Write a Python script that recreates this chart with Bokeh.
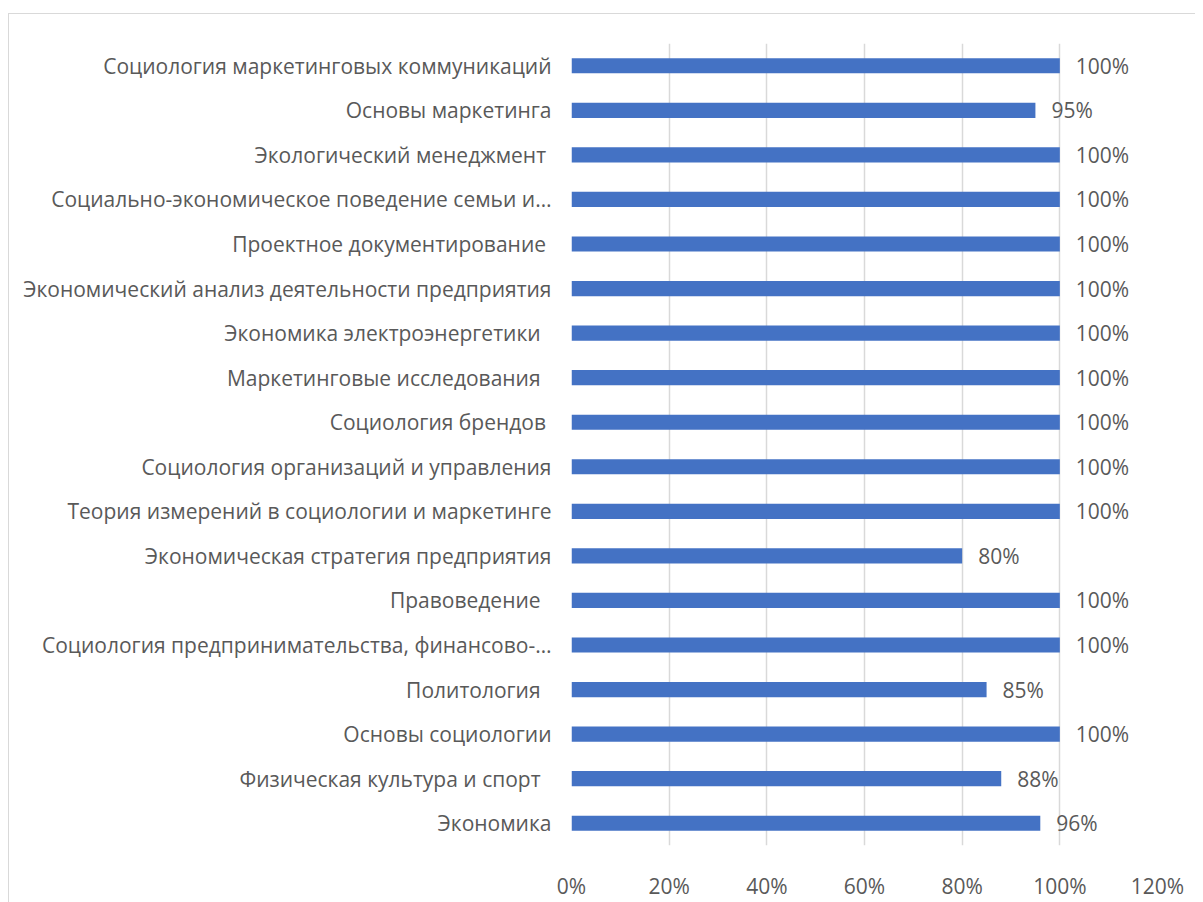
from bokeh.plotting import figure
from bokeh.models import FactorRange, Range1d, FixedTicker, NumeralTickFormatter, ColumnDataSource
from bokeh.core.properties import value
from bokeh.embed import file_html
from bokeh.resources import INLINE

NBSP = "\u00a0"
categories = [
    "Социология маркетинговых коммуникаций",
    "Основы маркетинга",
    "Экологический менеджмент" + NBSP,
    "Социально-экономическое поведение семьи и…",
    "Проектное документирование" + NBSP,
    "Экономический анализ деятельности предприятия",
    "Экономика электроэнергетики" + NBSP + NBSP,
    "Маркетинговые исследования" + NBSP + NBSP,
    "Социология брендов" + NBSP,
    "Социология организаций и управления",
    "Теория измерений в социологии и маркетинге",
    "Экономическая стратегия предприятия",
    "Правоведение" + NBSP + NBSP,
    "Социология предпринимательства, финансово-…",
    "Политология" + NBSP + NBSP,
    "Основы социологии",
    "Физическая культура и спорт" + NBSP + NBSP,
    "Экономика",
]
values = [1.00, 0.95, 1.00, 1.00, 1.00, 1.00, 1.00, 1.00, 1.00, 1.00, 1.00, 0.80, 1.00, 1.00, 0.85, 1.00, 0.88, 0.96]
value_labels = ["100%", "95%", "100%", "100%", "100%", "100%", "100%", "100%", "100%", "100%", "100%", "80%", "100%", "100%", "85%", "100%", "88%", "96%"]
x_ticks = [0, 0.2, 0.4, 0.6, 0.8, 1.0, 1.2]

FONT = "Open Sans"
TXT = "#595959"

src = ColumnDataSource(dict(cat=categories, val=values, lab=value_labels))

p = figure(
    width=1195, height=902,
    y_range=FactorRange(factors=list(reversed(categories)), range_padding=0),
    x_range=Range1d(0, 1.2),
    output_backend="svg", toolbar_location=None,
    min_border_left=571, min_border_right=38, min_border_top=43, min_border_bottom=55,
)
p.outline_line_color = None
p.background_fill_color = "white"
p.border_fill_color = None
# thin light-grey chart-area border drawn behind the (transparent) canvas border area
p.styles = {
    "background-color": "white",
    "background-image": "linear-gradient(#d9d9d9, #d9d9d9), linear-gradient(#d9d9d9, #d9d9d9)",
    "background-size": "1px 100%, 100% 1px",
    "background-position": "8px 13px, 8px 13px",
    "background-repeat": "no-repeat",
}

p.hbar(y="cat", right="val", left=0, height=0.34, source=src, color="#4472C4", line_color=None)
p.text(x="val", y="cat", text="lab", source=src, x_offset=16, text_baseline="middle", text_align="left",
       text_font=value(FONT), text_font_size="21px", text_color=TXT)

p.ygrid.grid_line_color = None
p.xgrid.grid_line_color = "#d9d9d9"
p.xgrid.grid_line_width = 1.5
p.xaxis.ticker = FixedTicker(ticks=x_ticks)
p.xaxis.formatter = NumeralTickFormatter(format="0%")

for ax in (p.xaxis[0], p.yaxis[0]):
    ax.axis_line_color = None
    ax.major_tick_line_color = None
    ax.minor_tick_line_color = None
    ax.major_tick_out = 0
    ax.major_tick_in = 0
    ax.major_label_text_font = FONT
    ax.major_label_text_font_size = "21px"
    ax.major_label_text_color = TXT
p.yaxis.major_label_standoff = 20
p.xaxis.major_label_standoff = 26

open("out.html", "w").write(file_html(p, INLINE))
